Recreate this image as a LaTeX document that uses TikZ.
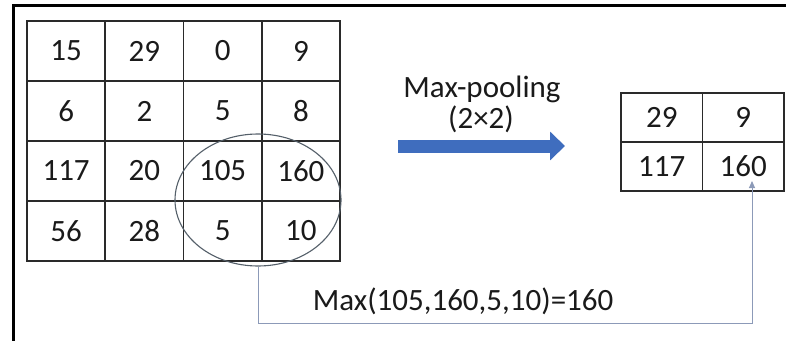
\documentclass[tikz,border=0pt]{standalone}
\usepackage{fontspec}
\setmainfont{Carlito}
\usetikzlibrary{arrows.meta,shapes.geometric}
\definecolor{ink}{HTML}{1A1A1A}
\definecolor{gridline}{HTML}{2A2A2A}
\definecolor{poolblue}{HTML}{3F6DBE}
\definecolor{linkline}{HTML}{8C9AB8}
\definecolor{ringline}{HTML}{55606A}
\tikzset{
  cell/.style={draw=gridline, line width=1.6pt, minimum width=#1, inner sep=0pt,
    text=ink, font=\fontsize{31}{37}\selectfont},
  bigcell/.style={cell=78.5pt, minimum height=60pt},
  smallcell/.style={cell=81.5pt, minimum height=49pt},
  caption/.style={text=ink, font=\fontsize{31}{37}\selectfont, inner sep=0pt},
  frame/.style={line width=3pt, black},
  pool/.style={poolblue, line width=13pt, -{Triangle[length=15pt,width=28pt]}},
  link/.style={linkline, line width=1pt},
}
\begin{document}
\begin{tikzpicture}[x=1pt,y=-1pt]
  \useasboundingbox (0,0) rectangle (786,340);
  \fill[white] (0,0) rectangle (786,340);

  % outer frame (top and left edges)
  \draw[frame] (13,341) -- (13,5) -- (787,5);

  % 4x4 input feature map
  \foreach \r/\row in {1/{15,29,0,9},2/{6,2,5,8},3/{117,20,105,160},4/{56,28,5,10}} {
    \foreach \v [count=\c] in \row {
      \node[bigcell] (a\r\c) at ({27+78.25*(\c-0.5)},{21+60*(\r-0.5)}) {\v};
    }
  }

  % pooling window around the lower right 2x2 block
  \node[ellipse, draw=ringline, line width=1.1pt, minimum width=166pt,
        minimum height=132pt, inner sep=0pt] (win) at (258,200) {};

  % 2x2 pooled output
  \foreach \r/\row in {1/{29,9},2/{117,160}} {
    \foreach \v [count=\c] in \row {
      \node[smallcell] (b\r\c) at ({621+81.5*(\c-0.5)},{93+49*(\r-0.5)}) {\v};
    }
  }

  % operation arrow and its label
  \coordinate (pstart) at (398,146);
  \coordinate (pend) at (565,146);
  \draw[pool] (pstart) -- (pend);
  \node[caption] (op) at (482,89) {Max-pooling};
  \node[caption] (opsize) at (481,119) {(2×2)};

  % link from the window to the pooled value
  \coordinate (turn) at (258,323);
  \coordinate (tip) at (752,181);
  \draw[link, -{Triangle[length=7pt,width=6pt]}] (win.south) -- (turn) -| (tip);
  \node[caption] (maxlabel) at (463,301) {Max(105,160,5,10)=160};
\end{tikzpicture}
\end{document}
